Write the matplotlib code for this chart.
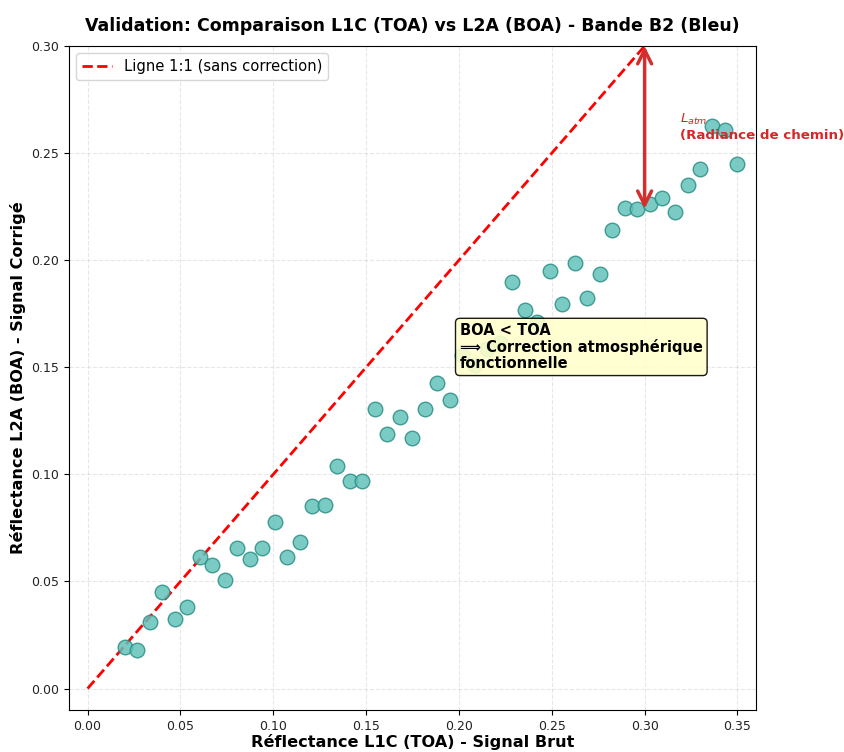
import numpy as np
import matplotlib
matplotlib.use("Agg")
import matplotlib.pyplot as plt

# L1C (TOA) vs L2A (BOA), bande B2
toa = [0.0200, 0.0267, 0.0335, 0.0402, 0.0469, 0.0537, 0.0604, 0.0671, 0.0739, 0.0806,
       0.0873, 0.0941, 0.1008, 0.1076, 0.1143, 0.1210, 0.1278, 0.1345, 0.1412, 0.1480,
       0.1547, 0.1614, 0.1682, 0.1749, 0.1816, 0.1884, 0.1951, 0.2018, 0.2086, 0.2153,
       0.2220, 0.2288, 0.2355, 0.2422, 0.2490, 0.2557, 0.2624, 0.2692, 0.2759, 0.2827,
       0.2894, 0.2961, 0.3029, 0.3096, 0.3163, 0.3231, 0.3298, 0.3365, 0.3433, 0.3500]
boa = [0.0196, 0.0182, 0.0313, 0.0449, 0.0327, 0.0379, 0.0612, 0.0575, 0.0505, 0.0654,
       0.0607, 0.0654, 0.0776, 0.0612, 0.0682, 0.0850, 0.0855, 0.1037, 0.0967, 0.0967,
       0.1304, 0.1187, 0.1266, 0.1168, 0.1304, 0.1425, 0.1346, 0.1556, 0.1509, 0.1584,
       0.1612, 0.1897, 0.1766, 0.1710, 0.1949, 0.1794, 0.1986, 0.1822, 0.1935, 0.2140,
       0.2243, 0.2238, 0.2262, 0.2290, 0.2224, 0.2350, 0.2425, 0.2626, 0.2607, 0.2449]
ref_line = [0.0, 0.30]

fig = plt.figure(figsize=(8.45, 7.52), dpi=100)
ax = fig.add_axes([0.0817, 0.0559, 0.813, 0.8829])

ax.plot(ref_line, ref_line, 'r--', lw=2, label='Ligne 1:1 (sans correction)')
ax.scatter(toa, boa, s=110, c='#62c2b9', edgecolors='#2a8f86', linewidths=1.0,
           alpha=0.85, zorder=3)

ax.annotate('', xy=(0.30, 0.224), xytext=(0.30, 0.30),
            arrowprops=dict(arrowstyle='<->', color='#d32f2f', lw=2.5,
                            mutation_scale=25, shrinkA=0, shrinkB=0))
ax.text(0.319, 0.262, '$L_{atm}$\n(Radiance de chemin)', color='#d62728',
        fontsize=9.6, fontweight='bold', va='center', clip_on=False)

ax.text(0.2005, 0.1595, 'BOA < TOA\n⟹ Correction atmosphérique\nfonctionnelle',
        fontsize=10.5, fontweight='bold', va='center', zorder=5, linespacing=1.1,
        bbox=dict(boxstyle='round,pad=0.3', facecolor='#ffffcc', edgecolor='black',
                  alpha=0.9))

ax.set_xlim(-0.01, 0.36)
ax.set_ylim(-0.01, 0.30)
ax.set_xticks([0.0, 0.05, 0.10, 0.15, 0.20, 0.25, 0.30, 0.35])
ax.set_yticks([0.0, 0.05, 0.10, 0.15, 0.20, 0.25, 0.30])
ax.tick_params(labelsize=9, labelcolor='#222222')
ax.grid(True, linestyle='--', alpha=0.3)
ax.legend(loc='upper left', fontsize=10.6)

ax.set_xlabel('Réflectance L1C (TOA) - Signal Brut', fontsize=11.6, fontweight='bold',
              labelpad=1)
ax.set_ylabel('Réflectance L2A (BOA) - Signal Corrigé', fontsize=11.6, fontweight='bold')
ax.set_title('Validation: Comparaison L1C (TOA) vs L2A (BOA) - Bande B2 (Bleu)',
             fontsize=12.5, fontweight='bold', pad=11)

fig.savefig('out.png', dpi=100)
